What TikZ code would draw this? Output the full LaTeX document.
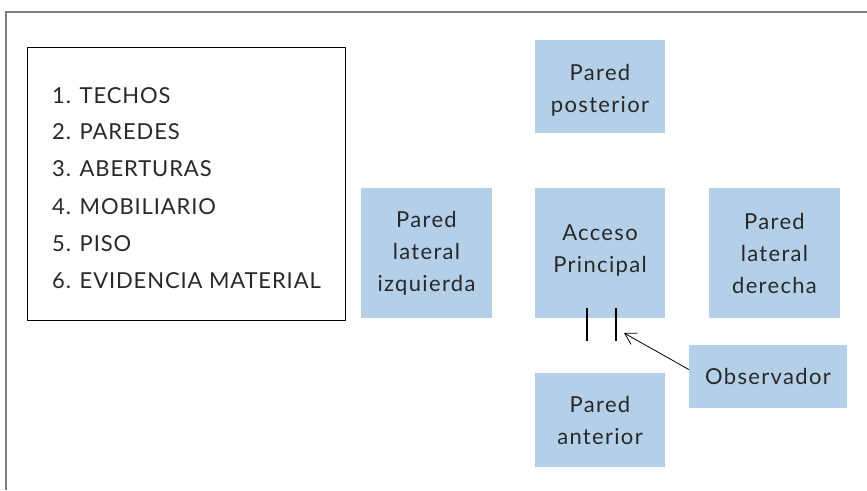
\documentclass[tikz,border=0pt]{standalone}
\usepackage{fontspec}
\setmainfont{Lato}
\newfontfamily\listafont{Lato}[LetterSpace=4]
\newfontfamily\cajafont{Lato}[LetterSpace=6]
\usetikzlibrary{arrows.meta}
\definecolor{pared}{RGB}{180,207,232}
\definecolor{texto}{RGB}{40,40,40}
\tikzset{
  caja/.style={rectangle, fill=pared, inner sep=0pt, align=center,
    font=\cajafont\fontsize{22}{32}\selectfont, text=texto},
  item/.style={anchor=west, inner sep=0pt, font=\listafont\fontsize{22}{26}\selectfont, text=texto}
}
\begin{document}
\begin{tikzpicture}[x=1pt, y=-1pt]
  \useasboundingbox (0,0) rectangle (867,490);
  % marco exterior
  \draw[gray, line width=1.5pt] (6,490) -- (6,12) -- (867,12);
  % lista
  \node[draw, line width=1pt, minimum width=318pt, minimum height=273pt] (lista) at (186,183.5) {};
  \node[item] (techos) at (52,96) {1. TECHOS};
  \node[item] (paredes) at (52,132) {2. PAREDES};
  \node[item] (aberturas) at (52,169) {3. ABERTURAS};
  \node[item] (mobiliario) at (52,207) {4. MOBILIARIO};
  \node[item] (piso) at (52,244) {5. PISO};
  \node[item] (evidencia) at (52,281) {6. EVIDENCIA MATERIAL};
  % paredes
  \node[caja, minimum width=130pt, minimum height=93pt] (posterior) at (600,86.5) {\rule{0pt}{24pt}Pared\\posterior};
  \node[caja, minimum width=131pt, minimum height=130pt] (izquierda) at (426.5,253) {Pared\\lateral\\izquierda};
  \node[caja, minimum width=130pt, minimum height=130pt] (acceso) at (600,253) {Acceso\\Principal\rule[-9pt]{0pt}{0pt}};
  \node[caja, minimum width=131pt, minimum height=130pt] (derecha) at (774.5,253) {Pared\\lateral\\derecha};
  \node[caja, minimum width=130pt, minimum height=94pt] (anterior) at (600,420) {Pared\\anterior};
  \node[caja, minimum width=158pt, minimum height=63pt] (observador) at (768,376.5) {Observador};
  % puerta
  \draw[line width=2pt] (587,308) -- (587,341);
  \draw[line width=2pt] (616,308) -- (616,341);
  \coordinate (puerta) at (624,333);
  \draw[-{Straight Barb[length=11pt,width=13pt]}, line width=0.8pt] ([yshift=7pt]observador.west) -- (puerta);
\end{tikzpicture}
\end{document}
